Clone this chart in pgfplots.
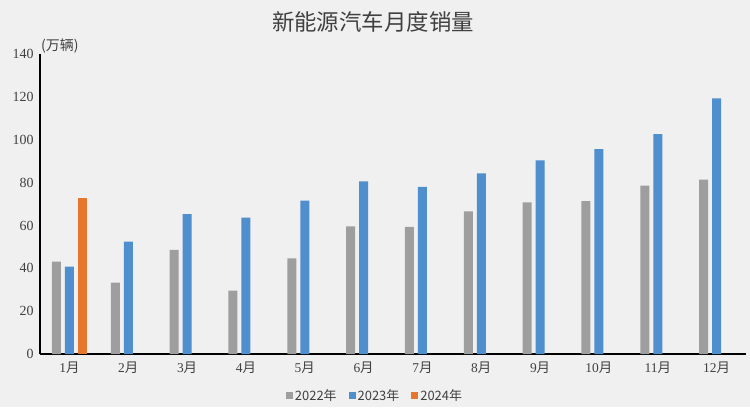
\documentclass[border=0pt]{standalone}
\usepackage{pgfplots}
\pgfplotsset{compat=1.18}
\usepackage{fontspec}
\setmainfont{Liberation Serif}
\newfontfamily\cjk{Noto Sans CJK SC}
\definecolor{bg}{HTML}{F0F0F0}
\definecolor{cgray}{HTML}{9E9E9E}
\definecolor{cblue}{HTML}{4F8FCD}
\definecolor{corange}{HTML}{E8772E}
\definecolor{txt}{HTML}{404040}
\begin{document}
\begin{tikzpicture}[x=1bp,y=1bp]
\fill[bg] (0,0) rectangle (750,407);
\useasboundingbox (0,0) rectangle (750,407);
\node[text=txt,font=\cjk\fontsize{22.5}{26}\selectfont] at (373,385) {新能源汽车月度销量};
\begin{axis}[
  at={(40bp,53bp)}, anchor=south west,
  scale only axis, width=706bp, height=300bp,
  xmin=-0.5, xmax=11.5, ymin=0, ymax=140,
  axis x line=bottom, axis y line=left,
  axis line style={black, line width=1.4pt, -},
  xtick={0,...,11}, xticklabels={1\cjk 月,2\cjk 月,3\cjk 月,4\cjk 月,5\cjk 月,6\cjk 月,7\cjk 月,8\cjk 月,9\cjk 月,10\cjk 月,11\cjk 月,12\cjk 月},
  ytick={0,20,...,140},
  major tick length=0pt,
  /pgf/number format/assume math mode=true,
  tick label style={text=txt, font=\fontsize{14}{16}\selectfont},
  yticklabel style={xshift=-3bp},
  xticklabel style={yshift=-4bp, font=\fontsize{13.5}{16}\selectfont},
  bar width=9bp,
  legend columns=3,
  legend style={at={(0.4745,-0.105)}, anchor=north, draw=none, fill=none,
    font=\cjk\fontsize{13}{15}\selectfont, text=txt,
    /tikz/every even column/.append style={column sep=10bp}},
  legend image code/.code={\fill[#1] (0bp,-3.5bp) rectangle (7bp,3.5bp);},
  clip=false,
]
\addplot[ybar, bar shift=-13bp, fill=cgray, draw=none] coordinates {
(0,43.1) (1,33.3) (2,48.6) (3,29.6) (4,44.6) (5,59.6) (6,59.3) (7,66.6) (8,70.8) (9,71.4) (10,78.6) (11,81.4)};
\addlegendentry{2022年}
\addplot[ybar, bar shift=0bp, fill=cblue, draw=none] coordinates {
(0,40.8) (1,52.5) (2,65.3) (3,63.6) (4,71.6) (5,80.6) (6,78.0) (7,84.3) (8,90.4) (9,95.6) (10,102.6) (11,119.3)};
\addlegendentry{2023年}
\addplot[ybar, bar shift=13bp, fill=corange, draw=none] coordinates {(0,72.9)};
\addlegendentry{2024年}
\node[anchor=south west, text=txt, font=\cjk\fontsize{14}{16}\selectfont, inner sep=1bp] at (axis cs:-0.5,140) {(万辆)};
\end{axis}
\end{tikzpicture}
\end{document}
